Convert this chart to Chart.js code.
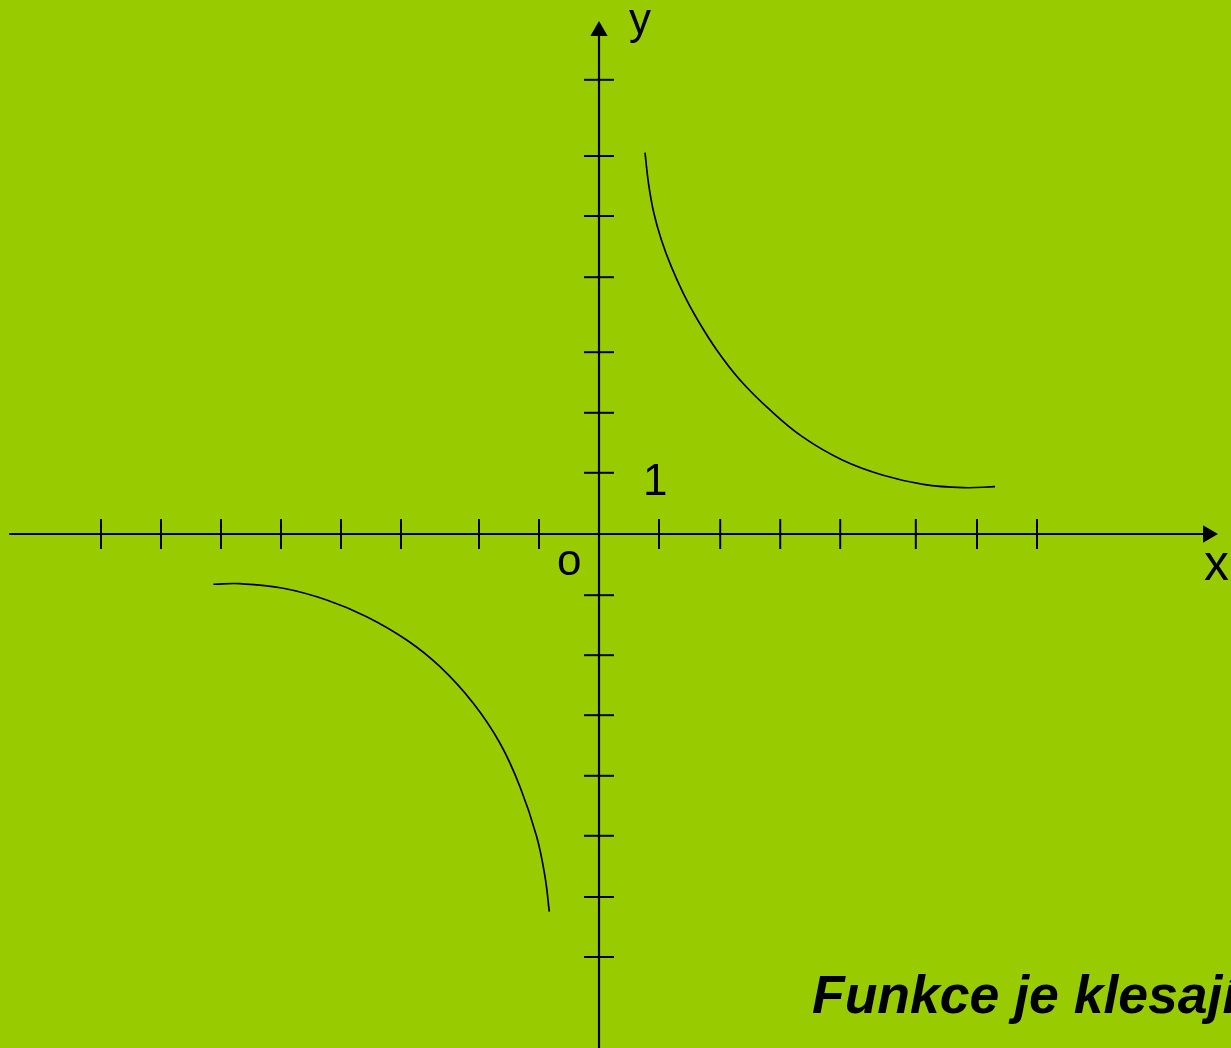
<!DOCTYPE html>
<html>
<head>
<meta charset="utf-8">
<script src="https://cdn.jsdelivr.net/npm/chart.js@4/dist/chart.umd.min.js"></script>
<style>
  html, body { margin: 0; padding: 0; background: #99CC00; overflow: hidden; }
  #wrap { width: 1231px; height: 1048px; }
</style>
</head>
<body>
<div id="wrap"><canvas id="c" width="1231" height="1048"></canvas></div>
<script>
// ---- data (axis units) ----
const xTickValues = [-8.3, -7.3, -6.3, -5.3, -4.3, -3.3, -2, -1, 1, 2.02, 3.02, 4.02, 5.28, 6.3, 7.3];
const yTickValues = [7.57, 6.3, 5.3, 4.28, 3.03, 2.02, 1.02, -1.02, -2.02, -3.02, -4.03, -5.03, -6.05, -7.05];

const upperX = [0.767, 0.825, 0.915, 1.04, 1.205, 1.405, 1.628, 1.962, 2.35, 2.85, 3.388, 4.055, 4.722, 5.405, 6.072, 6.6];
const upperY = [6.355, 5.845, 5.345, 4.9, 4.455, 4.012, 3.595, 3.067, 2.567, 2.067, 1.622, 1.233, 0.983, 0.828, 0.772, 0.788];

const lowerX = [-6.428, -5.983, -5.262, -4.538, -3.872, -3.205, -2.65, -2.095, -1.65, -1.317, -1.038, -0.9, -0.828];
const lowerY = [-0.838, -0.828, -0.905, -1.1, -1.378, -1.767, -2.212, -2.822, -3.488, -4.212, -5.045, -5.712, -6.295];

const axisXRange = [-9.83, 10.15];
const axisYRange = [-8.7, 8.383];

const labelTexts = { x: 'x', y: 'y', origin: 'o', one: '1', caption: 'Funkce je klesající' };

// ---- build ----
const pts = (xs, ys) => xs.map((v, i) => ({ x: v, y: ys[i] }));

const bgPlugin = {
  id: 'bg',
  beforeDraw(chart) {
    const ctx = chart.ctx;
    ctx.save();
    ctx.fillStyle = '#99CC00';
    ctx.fillRect(0, 0, chart.width, chart.height);
    ctx.restore();
  }
};

const labelPlugin = {
  id: 'labels',
  afterDraw(chart) {
    const ctx = chart.ctx;
    const sx = chart.scales.x, sy = chart.scales.y;
    const ox = sx.getPixelForValue(0), oy = sy.getPixelForValue(0);
    ctx.save();
    ctx.fillStyle = '#000';
    ctx.textAlign = 'left';
    ctx.textBaseline = 'alphabetic';
    ctx.font = '44px "Liberation Sans", Arial, sans-serif';
    ctx.fillText(labelTexts.y, ox + 30, oy - 500);
    ctx.fillText(labelTexts.one, ox + 44, oy - 39);
    ctx.fillText(labelTexts.origin, ox - 42, oy + 41);
    ctx.font = '50px "Liberation Sans", Arial, sans-serif';
    ctx.fillText(labelTexts.x, ox + 605, oy + 46);
    ctx.font = 'italic bold 53.5px "Liberation Sans", Arial, sans-serif';
    ctx.fillText(labelTexts.caption, ox + 213, oy + 479);
    ctx.restore();
  }
};

const black = '#000000';

new Chart(document.getElementById('c'), {
  type: 'scatter',
  data: {
    datasets: [
      {
        data: pts(upperX, upperY),
        showLine: true, borderColor: black, borderWidth: 1.7,
        pointRadius: 0, tension: 0.4, fill: false
      },
      {
        data: pts(lowerX, lowerY),
        showLine: true, borderColor: black, borderWidth: 1.7,
        pointRadius: 0, tension: 0.4, fill: false
      },
      {
        data: [{ x: axisXRange[0], y: 0 }, { x: axisXRange[1], y: 0 }],
        showLine: true, borderColor: black, borderWidth: 2.2,
        pointRadius: [0, 10], pointStyle: 'triangle', rotation: 90,
        pointBackgroundColor: black, pointBorderColor: black, pointBorderWidth: 0
      },
      {
        data: [{ x: 0, y: axisYRange[0] }, { x: 0, y: axisYRange[1] }],
        showLine: true, borderColor: black, borderWidth: 2.2,
        pointRadius: [0, 10], pointStyle: 'triangle', rotation: 0,
        pointBackgroundColor: black, pointBorderColor: black, pointBorderWidth: 0
      },
      {
        data: xTickValues.map(v => ({ x: v, y: 0 })),
        showLine: false, pointStyle: 'line', rotation: 90, pointRadius: 15,
        pointBorderColor: black, pointBorderWidth: 2
      },
      {
        data: yTickValues.map(v => ({ x: 0, y: v })),
        showLine: false, pointStyle: 'line', rotation: 0, pointRadius: 15,
        pointBorderColor: black, pointBorderWidth: 2
      }
    ]
  },
  options: {
    responsive: false,
    animation: false,
    events: [],
    layout: { padding: 0, autoPadding: false },
    plugins: { legend: { display: false }, tooltip: { enabled: false } },
    scales: {
      x: { type: 'linear', min: -9.983, max: 10.533, display: false },
      y: { type: 'linear', min: -8.567, max: 8.9, display: false }
    }
  },
  plugins: [bgPlugin, labelPlugin]
});
</script>
</body>
</html>
